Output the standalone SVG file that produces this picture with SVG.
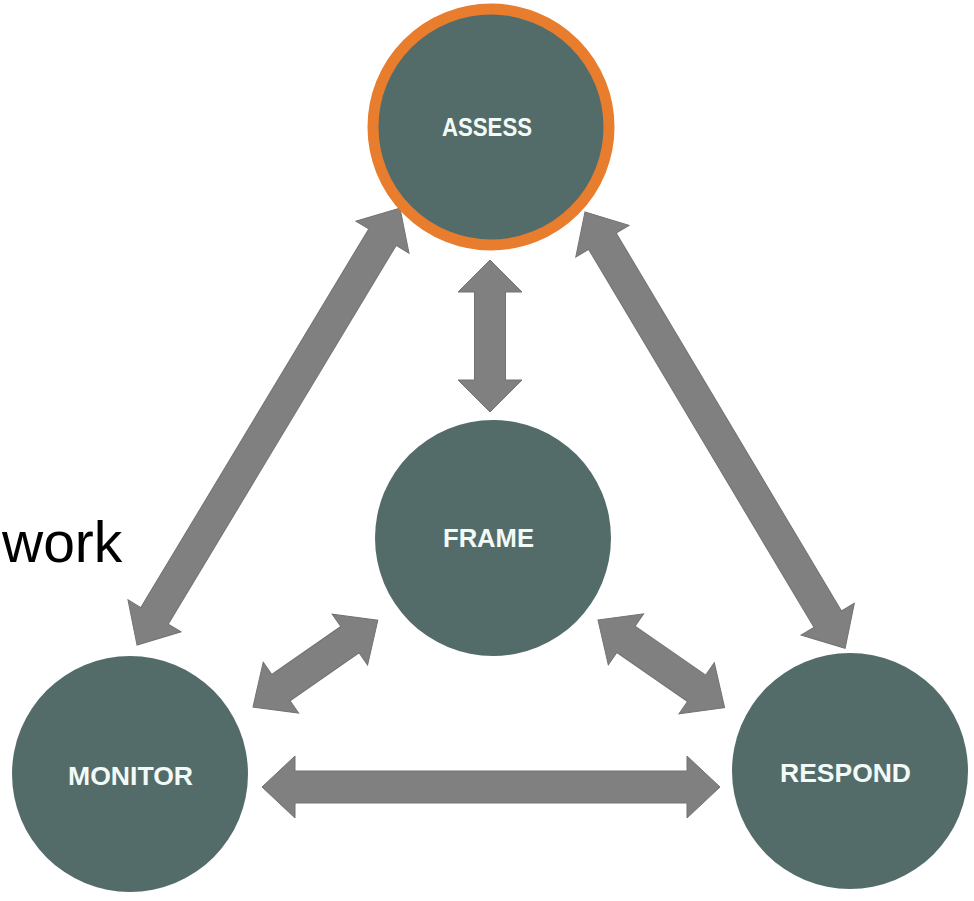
<svg xmlns="http://www.w3.org/2000/svg" width="974" height="901" viewBox="0 0 974 901">
<style>
.node{fill:#536c69;}
.hl{stroke:#e87d2e;stroke-width:11;}
.lbl{font-family:"Liberation Sans",Arial,sans-serif;font-weight:bold;font-size:26px;fill:#f2faf8;text-anchor:middle;}
.arr{fill:#808080;stroke:#727272;stroke-width:1;stroke-linejoin:miter;}
.cap{font-family:"Liberation Sans",Arial,sans-serif;font-size:57px;fill:#000;}
</style>
<rect width="974" height="901" fill="#ffffff"/>
<text class="cap" x="2" y="562">work</text>
<g id="connectors">
<polygon class="arr" transform="translate(137,645) rotate(-58.96)" points="0,0 34,-31 34,-16 476,-16 476,-31 510,0 476,31 476,16 34,16 34,31"/>
<polygon class="arr" transform="translate(585,212) rotate(59.2)" points="0,0 34,-31 34,-16 474,-16 474,-31 508,0 474,31 474,16 34,16 34,31"/>
<polygon class="arr" transform="translate(490,260) rotate(90)" points="0,0 32,-32 32,-15.5 120,-15.5 120,-32 152,0 120,32 120,15.5 32,15.5 32,32"/>
<polygon class="arr" transform="translate(262,787)" points="0,0 33,-31 33,-16 425,-16 425,-31 458,0 425,31 425,16 33,16 33,31"/>
<polygon class="arr" transform="translate(253,707) rotate(-34.8)" points="0,0 34,-31 34,-16 118,-16 118,-31 152,0 118,31 118,16 34,16 34,31"/>
<polygon class="arr" transform="translate(598,620) rotate(34.7)" points="0,0 34,-31 34,-16 120,-16 120,-31 154,0 120,31 120,16 34,16 34,31"/>
</g>
<g id="assess">
<circle class="node hl" cx="491" cy="127" r="118"/>
<text class="lbl" x="487" y="136" textLength="90" lengthAdjust="spacingAndGlyphs">ASSESS</text>
</g>
<g id="frame">
<circle class="node" cx="493" cy="538" r="118"/>
<text class="lbl" x="488.5" y="547" textLength="91" lengthAdjust="spacingAndGlyphs">FRAME</text>
</g>
<g id="monitor">
<circle class="node" cx="130" cy="774" r="118"/>
<text class="lbl" x="130.5" y="785" textLength="125" lengthAdjust="spacingAndGlyphs">MONITOR</text>
</g>
<g id="respond">
<circle class="node" cx="850" cy="771" r="118"/>
<text class="lbl" x="845.5" y="782" textLength="131" lengthAdjust="spacingAndGlyphs">RESPOND</text>
</g>
</svg>
